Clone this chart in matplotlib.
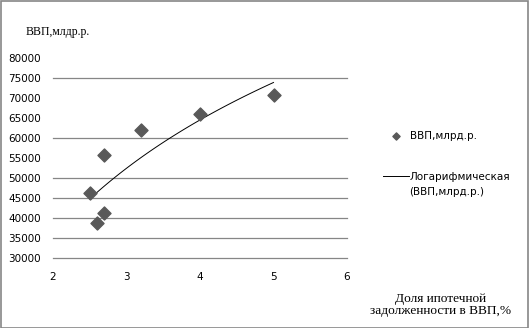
import numpy as np
import matplotlib
matplotlib.use("Agg")
import matplotlib.pyplot as plt
from matplotlib.patches import Rectangle

# mortgage debt share in GDP, %
share = [2.5, 2.6, 2.7, 2.7, 3.2, 4.0, 5.0]
# GDP, bln rub
gdp = [46250, 38750, 41250, 55750, 62000, 66000, 70750]

y_ticks = [30000, 35000, 40000, 45000, 50000, 55000, 60000, 65000, 70000, 75000, 80000]
x_ticks = [2, 3, 4, 5, 6]
# only these gridlines show up in the picture
grid_vals = [30000, 35000, 40000, 45000, 50000, 60000, 75000]

serif = ["Liberation Serif", "DejaVu Serif"]

fig = plt.figure(figsize=(5.29, 3.28), dpi=100)
ax = fig.add_axes([53 / 529, 1 - 258 / 328, 294 / 529, 200 / 328])

for g in grid_vals:
	ax.axhline(g, color="#868686", lw=0.9, zorder=1, clip_on=False)

pts = ax.scatter(share, gdp, marker="D", s=44, color="#595959", zorder=3,
	label="ВВП,млрд.р.")

# log trend line
a, b = np.polyfit(np.log(share), gdp, 1)
xs = np.linspace(min(share), max(share), 100)
trend, = ax.plot(xs, a * np.log(xs) + b, color="black", lw=0.7, zorder=2,
	label="Логарифмическая")

ax.set_xlim(2, 6)
ax.set_ylim(30000, 80000)
ax.set_xticks(x_ticks)
ax.set_yticks(y_ticks)
ax.tick_params(length=0, labelsize=7.5, labelcolor="black")
ax.tick_params(axis="y", pad=8.5)
ax.tick_params(axis="x", pad=10)
for s in ax.spines.values():
	s.set_visible(False)

fig.legend(handles=[pts], loc="center left", bbox_to_anchor=(383 / 529, 1 - 136 / 328),
	frameon=False, fontsize=7.5, handlelength=2.5, handletextpad=0.1, borderpad=0,
	borderaxespad=0, markerscale=0.55)
fig.legend(handles=[trend], loc="center left", bbox_to_anchor=(383 / 529, 1 - 177 / 328),
	frameon=False, fontsize=7.5, handlelength=2.5, handletextpad=0.1, borderpad=0,
	borderaxespad=0)
# second line of the trend legend label
fig.text(409 / 529, 1 - 192 / 328, "(ВВП,млрд.р.)", fontsize=7.5, ha="left", va="center")

fig.text(58 / 529, 1 - 32 / 328, "ВВП,млдр.р.", family=serif, fontsize=8.5,
	ha="center", va="center")
fig.text(441 / 529, 1 - 305 / 328, "Доля ипотечной\nзадолженности в ВВП,%", family=serif,
	fontsize=9.6, ha="center", va="center", linespacing=1.1)

fig.patches.append(Rectangle((0.5 / 529, 0.5 / 328), 1 - 1.5 / 529, 1 - 1.5 / 328,
	transform=fig.transFigure, fill=False, ec="#868686", lw=1.2))

fig.savefig("out.png", dpi=100)
